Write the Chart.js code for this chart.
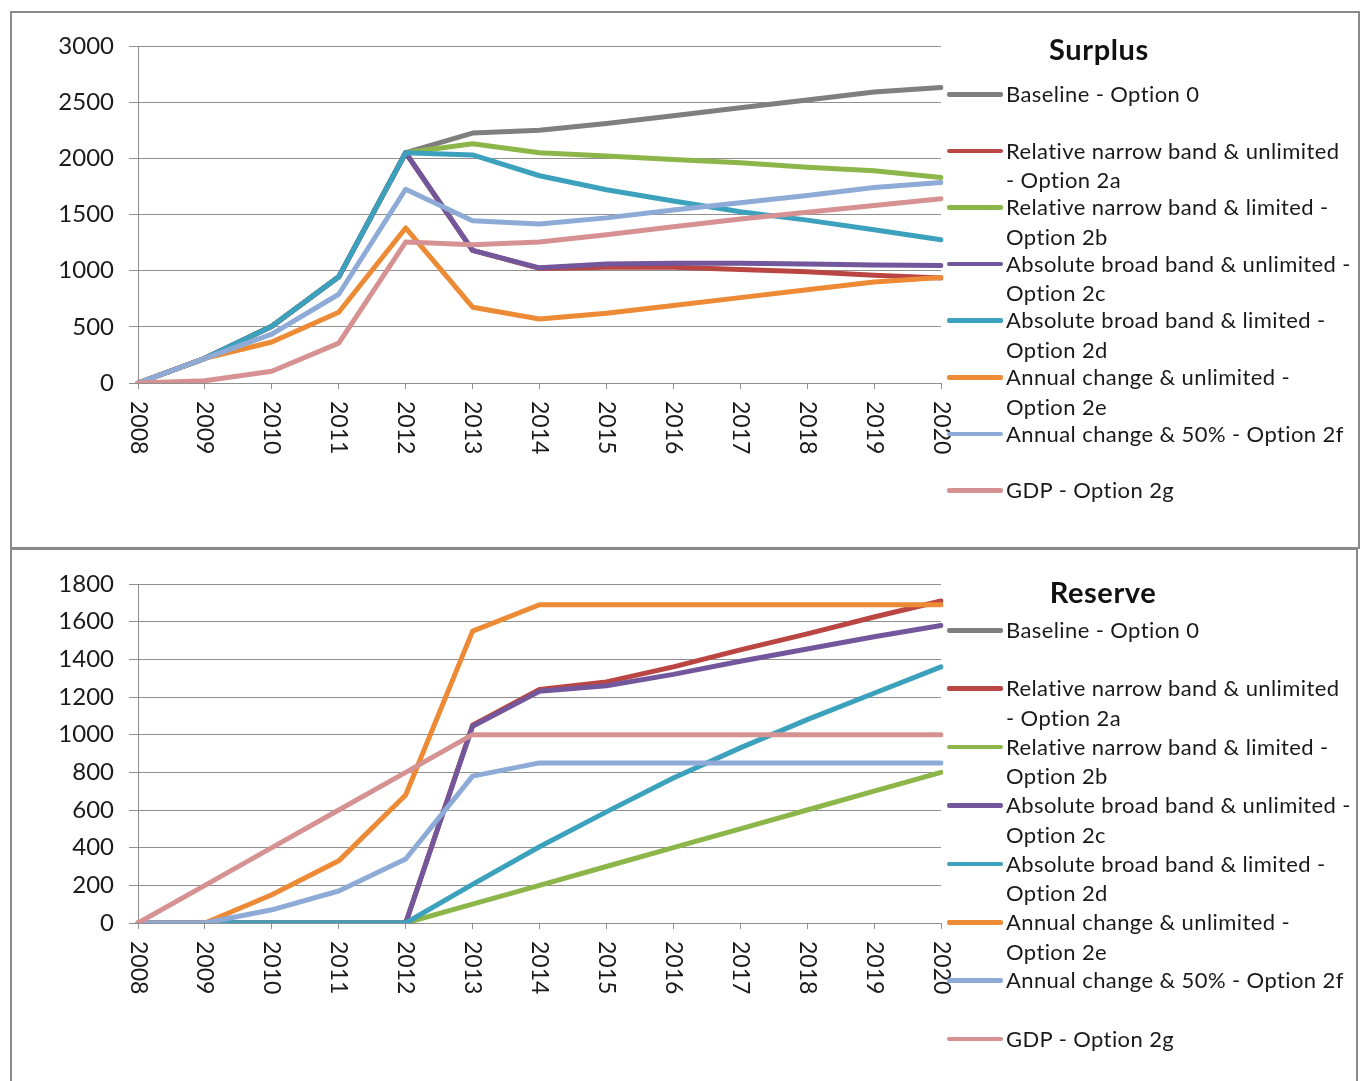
<!DOCTYPE html>
<html>
<head>
<meta charset="utf-8">
<title>Surplus and Reserve</title>
<script src="https://cdn.jsdelivr.net/npm/chart.js@4.4.1/dist/chart.umd.min.js"></script>
<style>
  body { margin: 0; background: #fff; font-family: Lato, "Open Sans", sans-serif; }
  .panel { position: absolute; border: 2px solid #8a8a8a; box-sizing: border-box; }
  canvas { position: absolute; left: 0; }
  .title { position: absolute; font-weight: bold; font-size: 29px; letter-spacing: 0.6px; color: #111; transform: translate(-50%, -50%); white-space: nowrap; }
  .entry { position: absolute; left: 947px; font-size: 22px; letter-spacing: 0.4px; color: #1a1a1a; line-height: 29.5px; white-space: nowrap; }
  .entry .swatch { position: absolute; left: 0; top: 13px; width: 56px; height: 4.5px; border-radius: 2px; }
  .entry .txt { position: absolute; left: 59px; top: 0; }
</style>
</head>
<body>
<div class="panel" style="left:10px;top:11px;width:1350px;height:538px"></div>
<div class="panel" style="left:10px;top:548px;width:1348px;height:545px"></div>
<canvas id="surplusChart" width="1364" height="548" style="top:0"></canvas>
<canvas id="reserveChart" width="1364" height="533" style="top:548px"></canvas>
<div id="legends"></div>

<script>
// years on the x axis
const years = ["2008", "2009", "2010", "2011", "2012", "2013", "2014",
               "2015", "2016", "2017", "2018", "2019", "2020"];

// legend names, split the way the legend wraps them
const seriesNames = [
  ["Baseline - Option 0"],
  ["Relative narrow band & unlimited", "- Option 2a"],
  ["Relative narrow band & limited -", "Option 2b"],
  ["Absolute broad band & unlimited -", "Option 2c"],
  ["Absolute broad band & limited -", "Option 2d"],
  ["Annual change & unlimited -", "Option 2e"],
  ["Annual change & 50% - Option 2f"],
  ["GDP - Option 2g"]
];
const seriesColors = ["#7f7f7f", "#b94643", "#8db64a", "#73579c", "#3ca1bd", "#ec8a35", "#8eaad7", "#d69293"];

// Surplus values
const surplusBaseline = [0, 220, 505, 945, 2050, 2225, 2250, 2310, 2380, 2450, 2520, 2590, 2630];
const surplus2a = [0, 220, 505, 945, 2050, 1180, 1020, 1030, 1030, 1010, 990, 960, 935];
const surplus2b = [0, 220, 505, 945, 2050, 2130, 2050, 2020, 1990, 1960, 1920, 1890, 1830];
const surplus2c = [0, 220, 505, 945, 2050, 1180, 1025, 1060, 1065, 1065, 1060, 1050, 1045];
const surplus2d = [0, 220, 505, 945, 2050, 2030, 1845, 1720, 1620, 1525, 1450, 1365, 1275];
const surplus2e = [0, 220, 365, 630, 1380, 675, 570, 620, 690, 760, 830, 900, 940];
const surplus2f = [0, 220, 435, 790, 1725, 1445, 1415, 1470, 1540, 1605, 1670, 1740, 1785];
const surplus2g = [0, 20, 105, 355, 1255, 1230, 1255, 1320, 1390, 1460, 1520, 1580, 1640];

// Reserve values (the baseline has no reserve line)
const reserveBaseline = [null, null, null, null, null, null, null, null, null, null, null, null, null];
const reserve2a = [0, 0, 0, 0, 0, 1050, 1240, 1280, 1360, 1450, 1535, 1625, 1710];
const reserve2b = [0, 0, 0, 0, 0, 100, 200, 300, 400, 500, 600, 700, 800];
const reserve2c = [0, 0, 0, 0, 0, 1045, 1230, 1260, 1320, 1390, 1455, 1520, 1580];
const reserve2d = [0, 0, 0, 0, 0, 205, 405, 590, 770, 930, 1080, 1220, 1360];
const reserve2e = [0, 0, 150, 330, 680, 1550, 1690, 1690, 1690, 1690, 1690, 1690, 1690];
const reserve2f = [0, 0, 70, 170, 340, 780, 850, 850, 850, 850, 850, 850, 850];
const reserve2g = [0, 200, 400, 600, 800, 1000, 1000, 1000, 1000, 1000, 1000, 1000, 1000];

const surplusSeries = [surplusBaseline, surplus2a, surplus2b, surplus2c, surplus2d, surplus2e, surplus2f, surplus2g];
const reserveSeries = [reserveBaseline, reserve2a, reserve2b, reserve2c, reserve2d, reserve2e, reserve2f, reserve2g];

const FONT = "Lato, 'Open Sans', sans-serif";
const GRID = "#8f8f8f";

// draws the year labels turned a quarter clockwise, like the original
const verticalYears = {
  id: "verticalYears",
  afterDraw(chart) {
    const xs = chart.scales.x;
    const ctx = chart.ctx;
    ctx.save();
    ctx.fillStyle = "#1a1a1a";
    ctx.font = "23px " + FONT;
    ctx.textAlign = "left";
    ctx.textBaseline = "middle";
    xs.ticks.forEach((t, i) => {
      const px = xs.getPixelForTick(i);
      ctx.save();
      ctx.translate(px, xs.top + 18);
      ctx.rotate(Math.PI / 2);
      ctx.fillText(chart.data.labels[i], 0, 0);
      ctx.restore();
    });
    ctx.restore();
  }
};

function makeChart(canvasId, series, yMax, yStep, padTop, padBottom) {
  const datasets = series.map((vals, i) => ({
    label: seriesNames[i].join(" "),
    data: vals,
    borderColor: seriesColors[i],
    backgroundColor: seriesColors[i],
    borderWidth: 5,
    pointRadius: 0,
    tension: 0,
    borderCapStyle: "round",
    borderJoinStyle: "round",
    order: -i
  }));

  return new Chart(document.getElementById(canvasId), {
    type: "line",
    data: { labels: years, datasets: datasets },
    options: {
      responsive: false,
      animation: false,
      layout: { padding: { left: 0, right: 423, top: padTop, bottom: padBottom } },
      plugins: { legend: { display: false }, tooltip: { enabled: false } },
      scales: {
        x: {
          grid: { drawOnChartArea: false, drawTicks: true, tickLength: 6, color: GRID },
          border: { display: true, color: GRID, width: 1 },
          ticks: { display: false },
          afterFit: (s) => { s.height = 6; }
        },
        y: {
          min: 0,
          max: yMax,
          grid: { color: GRID, lineWidth: 1, tickLength: 9 },
          border: { display: true, color: GRID, width: 1 },
          ticks: {
            stepSize: yStep,
            padding: 15,
            color: "#1a1a1a",
            font: { family: FONT, size: 24 },
            callback: (v) => String(v)
          },
          afterFit: (s) => { s.width = 138; }
        }
      }
    },
    plugins: [verticalYears]
  });
}

makeChart("surplusChart", surplusSeries, 3000, 500, 46, 548 - 383 - 6);
makeChart("reserveChart", reserveSeries, 1800, 200, 36, 533 - 375 - 6);

// titles and legends as page text
function addLegend(title, titleX, titleY, firstY, step) {
  const box = document.getElementById("legends");
  const t = document.createElement("div");
  t.className = "title";
  t.style.left = titleX + "px";
  t.style.top = titleY + "px";
  t.textContent = title;
  box.appendChild(t);
  seriesNames.forEach((lines, i) => {
    const e = document.createElement("div");
    e.className = "entry";
    e.style.top = (firstY + i * step - 16) + "px";
    e.innerHTML = `<span class="swatch" style="background:${seriesColors[i]}"></span>`;
    const txt = document.createElement("span");
    txt.className = "txt";
    txt.innerHTML = lines.map(l => l.replace(/&/g, "&amp;")).join("<br>");
    e.appendChild(txt);
    box.appendChild(e);
  });
}

addLegend("Surplus", 1099, 48, 95, 56.6);
addLegend("Reserve", 1103, 591, 631, 58.4);
</script>
</body>
</html>
